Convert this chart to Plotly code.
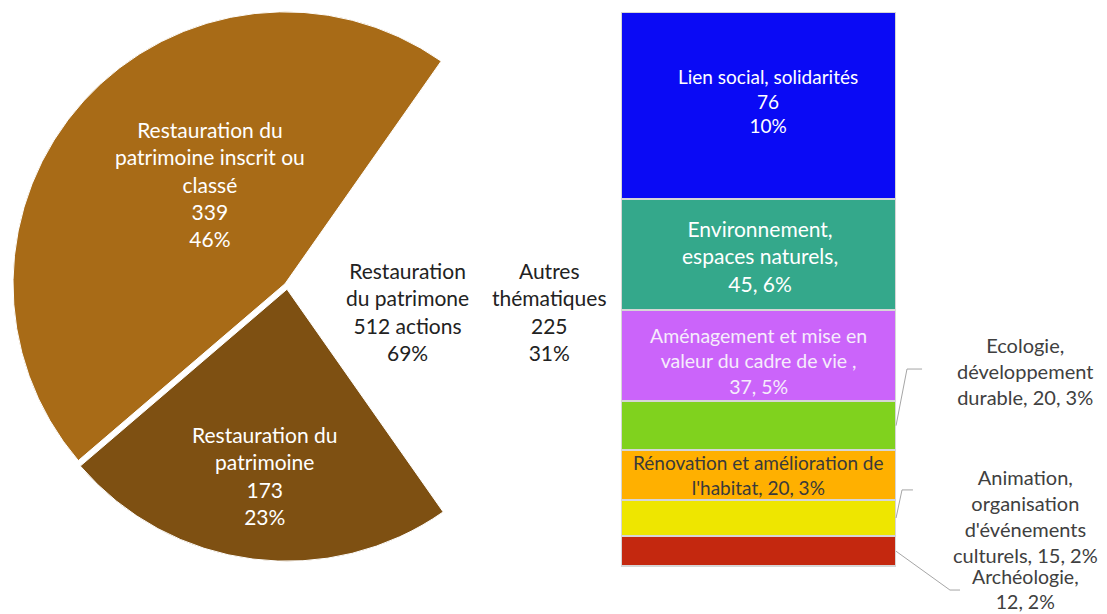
import plotly.graph_objects as go

# pie: Restauration du patrimoine (the missing wedge = "Autres thématiques")
pie_labels = ["Restauration du<br>patrimoine inscrit ou<br>classé", "Restauration du<br>patrimoine"]
pie_values = [339, 173]
pie_pct = [46, 23]
pie_colors = ["#A86B17", "#7E5012"]

# bar of pie: Autres thématiques, top to bottom
bar_labels = ["Lien social, solidarités<br>",
              "Environnement,<br>espaces naturels,<br>",
              "Aménagement et mise en<br>valeur du cadre de vie ,<br>",
              "Ecologie,<br>développement<br>durable, ",
              "Rénovation et amélioration de<br>l'habitat, ",
              "Animation,<br>organisation<br>d'événements<br>culturels, ",
              "Archéologie,<br>"]
bar_values = [76, 45, 37, 20, 20, 15, 12]
bar_pct = [10, 6, 5, 3, 3, 2, 2]
bar_colors = ["#0A0AF5", "#34A88B", "#CB64FA", "#80D21E", "#FFB000", "#EEE600", "#C4280F"]

group_labels = ["Restauration<br>du patrimone", "Autres<br>thématiques"]
group_pct = [69, 31]

FONT = "Lato, 'Open Sans', sans-serif"
total_pie = sum(pie_values)
total_other = sum(bar_values)
total = total_pie + total_other

fig = go.Figure()

# pie, with the "others" slice invisible and centred on 3 o'clock
fig.add_trace(go.Pie(
    labels=["Autres thématiques"] + [l.replace("<br>", " ") for l in pie_labels[::-1]],
    values=[total_other] + pie_values[::-1],
    marker=dict(colors=["rgba(0,0,0,0)"] + pie_colors[::-1],
                line=dict(color="white", width=[0, 1, 1])),
    sort=False, direction="clockwise",
    rotation=90 - 360 * total_other / total / 2,
    pull=[0, 0.012, 0.012],
    textinfo="none", hoverinfo="label+value",
    domain=dict(x=[0.00375, 0.50104], y=[0.09894, 0.99552]),
    showlegend=False,
))

# stacked bar, bottom segment first
for lab, v, c in zip(bar_labels[::-1], bar_values[::-1], bar_colors[::-1]):
    fig.add_trace(go.Bar(
        x=[0], y=[v], width=1, xaxis="x2", yaxis="y2",
        marker=dict(color=c, line=dict(color="#D6D6D6", width=2)),
        name=lab.replace("<br>", " "), showlegend=False,
        hoverinfo="name+y",
    ))

annotations = []

# pie slice labels
pie_pos = [(0.1825, 0.7134), (0.2322, 0.2394)]
for lab, v, p, (px, py) in zip(pie_labels, pie_values, pie_pct, pie_pos):
    annotations.append(dict(
        x=px, y=py, xref="paper", yref="paper", showarrow=False,
        xanchor="center", yanchor="middle",
        text=f"{lab}<br>{v}<br>{p}%", align="center",
        font=dict(family=FONT, size=21, color="white"),
    ))

# group totals between pie and bar
for lab, v, p, gx in zip(group_labels, [f"{total_pie} actions", total_other], group_pct, [0.3613, 0.4896]):
    annotations.append(dict(
        x=gx, y=0.5065, xref="paper", yref="paper", showarrow=False,
        xanchor="center", yanchor="middle",
        text=f"{lab}<br>{v}<br>{p}%", align="center",
        font=dict(family=FONT, size=21, color="#222222"),
    ))

# bar labels: segment mid points from the stacked values
mids = []
acc = total_other
for v in bar_values:
    mids.append(acc - v / 2)
    acc -= v

inside = {0: ("white", 19, 10, 5), 1: ("white", 21, 2, -1), 2: ("#F6ECFC", 19.5, 0, -6), 4: ("#3A3A3A", 19, 0, 0)}
outside = {3: (79.2, 20), 5: (20.3, 20), 6: (-9.3, 19.5)}
leaders = {3: (0.8121, 0.8257, 80.0), 5: (0.8076, 0.8175, 30.9), 6: (0.8509, 0.8600, -9.75)}
shapes = []
for i, (lab, v, p) in enumerate(zip(bar_labels, bar_values, bar_pct)):
    txt = lab + (f"{v}<br>{p}%" if i == 0 else f"{v}, {p}%")
    if i in inside:
        col, fs, xs, ys = inside[i]
        annotations.append(dict(
            x=0, y=mids[i], xref="x2", yref="y2", showarrow=False,
            xanchor="center", yanchor="middle",
            text=txt, align="center", xshift=xs, yshift=ys,
            font=dict(family=FONT, size=fs, color=col),
        ))
    else:
        ly, fs = outside[i]
        annotations.append(dict(
            x=0.9187, y=ly, xref="paper", yref="y2", showarrow=False,
            xanchor="center", yanchor="middle",
            text=txt, align="center",
            font=dict(family=FONT, size=fs, color="#404040"),
        ))
        bx, tx, by = leaders[i]
        shapes.append(dict(
            type="path", xref="paper", yref="y2",
            path=f"M 0.8022,{mids[i]} L {bx},{by} L {tx},{by}",
            line=dict(color="#A6A6A6", width=1),
        ))

fig.update_layout(
    width=1107, height=614,
    margin=dict(l=0, r=0, t=0, b=0),
    paper_bgcolor="white", plot_bgcolor="white",
    barmode="stack", bargap=0,
    xaxis2=dict(domain=[0.5537, 0.8022], range=[-0.5, 0.5], visible=False, anchor="y2", fixedrange=True),
    yaxis2=dict(domain=[0.03502, 0.99349], range=[-14, total_other], visible=False, anchor="x2", fixedrange=True),
    xaxis=dict(visible=False), yaxis=dict(visible=False),
    annotations=annotations,
    shapes=shapes,
)

fig.write_html("out.html")
